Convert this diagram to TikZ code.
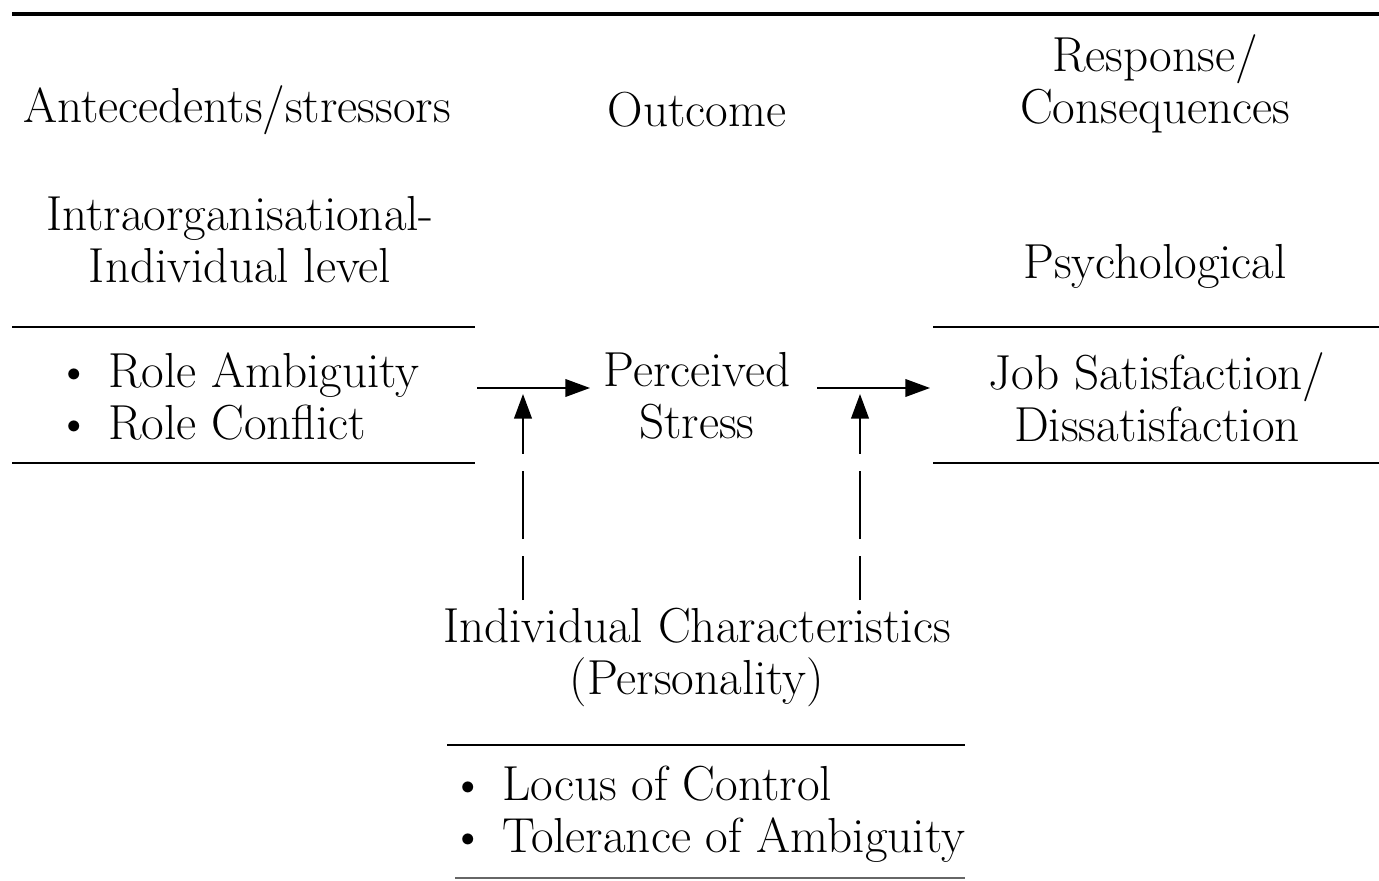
\documentclass[tikz,border=0pt]{standalone}
\usetikzlibrary{arrows.meta}
\begin{document}
\begin{tikzpicture}[x=0.02cm,y=-0.02cm,
  txt/.style={inner sep=0pt,align=center,font=\fontsize{28}{29.6}\selectfont},
  lst/.style={inner sep=0pt,align=left,anchor=west,font=\fontsize{28}{29.6}\selectfont},
  rule/.style={line width=1.3pt},
  flow/.style={line width=1pt,-{Triangle[length=14pt,width=10pt]}},
  modarrow/.style={line width=1.3pt,dash pattern=on 44*0.02cm off 17*0.02cm on 68*0.02cm off 17*0.02cm on 200*0.02cm,-{Triangle[length=14pt,width=10pt]}}]
\useasboundingbox (0,0) rectangle (1379,881);
% rules
\coordinate (t1) at (12,14); \coordinate (t2) at (1379,14);
\draw[line width=1.8pt] (t1) -- (t2);
\coordinate (l1) at (12,327); \coordinate (l2) at (475,327);
\coordinate (l3) at (12,463); \coordinate (l4) at (475,463);
\coordinate (r1) at (933,327); \coordinate (r2) at (1379,327);
\coordinate (r3) at (933,463); \coordinate (r4) at (1379,463);
\coordinate (b1) at (447,745); \coordinate (b2) at (965,745);
\coordinate (c1) at (455,878); \coordinate (c2) at (965,878);
\draw[rule] (l1) -- (l2); \draw[rule] (l3) -- (l4);
\draw[rule] (r1) -- (r2); \draw[rule] (r3) -- (r4);
\draw[rule] (b1) -- (b2);
\draw[line width=0.8pt,black!60] (c1) -- (c2);
% headings
\node[txt] (ante) at (237,110) {Antecedents/stressors};
\node[txt] (outc) at (697,110) {Outcome};
\node[txt] (resp) at (1155,84) {Response/\\Consequences};
\node[txt] (intra) at (240,240) {Intraorganisational-\\Individual level};
\node[txt] (psych) at (1155,266) {Psychological};
% boxes
\node[lst] (roles) at (56,397) {\makebox[1.05em][l]{\textbullet}Role Ambiguity\\\makebox[1.05em][l]{\textbullet}Role Conflict};
\node[txt] (stress) at (697,396) {Perceived\\Stress};
\node[txt] (job) at (1157,397) {Job Satisfaction/\\Dissatisfaction};
\node[txt] (indiv) at (697,657) {Individual Characteristics\\(Personality)};
\node[lst] (pers) at (450,814) {\makebox[1.05em][l]{\textbullet}Locus of Control\\\makebox[1.05em][l]{\textbullet}Tolerance of Ambiguity};
% arrows
\coordinate (a1s) at (477,388); \coordinate (a1e) at (590,388);
\coordinate (a2s) at (817,388); \coordinate (a2e) at (930,388);
\draw[flow] (a1s) -- (a1e);
\draw[flow] (a2s) -- (a2e);
\coordinate (v1s) at (523,600); \coordinate (v1e) at (523,394);
\coordinate (v2s) at (860,600); \coordinate (v2e) at (860,394);
\draw[modarrow] (v1s) -- (v1e);
\draw[modarrow] (v2s) -- (v2e);
\end{tikzpicture}
\end{document}
